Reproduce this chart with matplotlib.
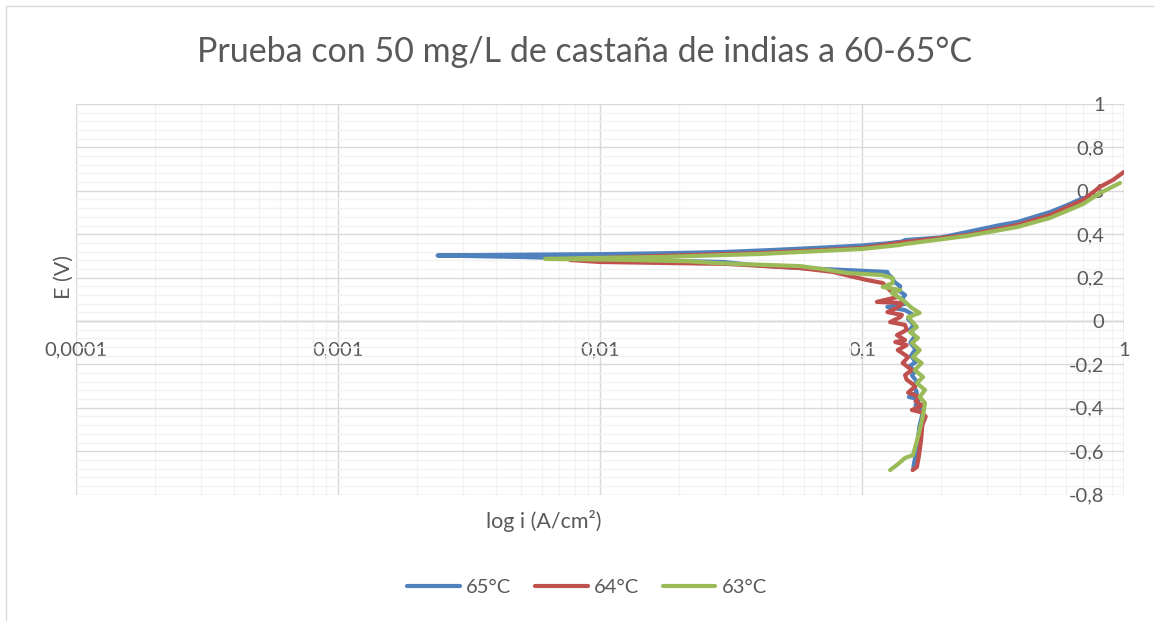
import matplotlib.pyplot as plt
from matplotlib.ticker import LogLocator, MultipleLocator, FixedLocator, NullFormatter
from matplotlib.patches import Rectangle

plt.rcParams['font.family'] = ['Lato', 'DejaVu Sans']

# 65°C: from -0.68 V upwards (cathodic), through Ecorr, then anodic branch
e_65 = [-0.675, -0.62, -0.55, -0.48, -0.43, -0.41, -0.39, -0.36, -0.35, -0.33,
        -0.30, -0.28, -0.25, -0.23, -0.21, -0.19, -0.16, -0.13, -0.10, -0.07,
        -0.04, -0.02, 0.01, 0.03, 0.05, 0.065, 0.08, 0.10, 0.12, 0.14,
        0.16, 0.18, 0.20, 0.215, 0.226, 0.232, 0.244, 0.256, 0.272, 0.285,
        0.295, 0.302, 0.305, 0.308, 0.312, 0.318, 0.327, 0.338, 0.348, 0.358,
        0.366, 0.373, 0.385, 0.41, 0.442, 0.456, 0.502, 0.535, 0.567]
i_65 = [0.157, 0.160, 0.163, 0.166, 0.170, 0.172, 0.160, 0.165, 0.151, 0.162,
        0.158, 0.162, 0.155, 0.160, 0.151, 0.160, 0.154, 0.160, 0.153, 0.159,
        0.152, 0.158, 0.150, 0.156, 0.146, 0.125, 0.148, 0.142, 0.146, 0.138,
        0.140, 0.133, 0.130, 0.126, 0.125, 0.098, 0.058, 0.040, 0.0295, 0.010,
        0.005, 0.0024, 0.0045, 0.010, 0.017, 0.030, 0.045, 0.070, 0.100, 0.125,
        0.142, 0.146, 0.20, 0.252, 0.336, 0.391, 0.522, 0.61, 0.698]

# 64°C
e_64 = [-0.687, -0.673, -0.62, -0.55, -0.48, -0.44, -0.42, -0.41, -0.39, -0.37,
        -0.35, -0.33, -0.30, -0.27, -0.249, -0.226, -0.194, -0.166, -0.134, -0.111,
        -0.097, -0.088, -0.065, -0.041, -0.018, -0.005, 0.018, 0.028, 0.041, 0.065,
        0.083, 0.088, 0.111, 0.129, 0.157, 0.175, 0.189, 0.203, 0.226, 0.244,
        0.263, 0.272, 0.281, 0.290, 0.300, 0.313, 0.336, 0.364, 0.396, 0.442,
        0.488, 0.558, 0.618, 0.650, 0.687]
i_64 = [0.156, 0.162, 0.165, 0.168, 0.170, 0.175, 0.168, 0.155, 0.170, 0.160,
        0.166, 0.150, 0.160, 0.148, 0.146, 0.155, 0.143, 0.150, 0.137, 0.148,
        0.134, 0.146, 0.136, 0.148, 0.146, 0.128, 0.140, 0.142, 0.125, 0.138,
        0.143, 0.114, 0.137, 0.131, 0.124, 0.120, 0.1045, 0.093, 0.0775, 0.058,
        0.0305, 0.010, 0.0077, 0.010, 0.017, 0.041, 0.100, 0.146, 0.252, 0.391,
        0.522, 0.698, 0.81, 0.908, 1.0]

# 63°C
e_63 = [-0.687, -0.66, -0.631, -0.618, -0.535, -0.45, -0.378, -0.35, -0.318, -0.286,
        -0.258, -0.226, -0.194, -0.166, -0.134, -0.101, -0.078, -0.051, -0.028, 0.018,
        0.037, 0.060, 0.097, 0.129, 0.143, 0.157, 0.175, 0.198, 0.212, 0.221,
        0.240, 0.253, 0.262, 0.267, 0.275, 0.282, 0.286, 0.290, 0.295, 0.309,
        0.332, 0.350, 0.355, 0.392, 0.433, 0.475, 0.539, 0.590, 0.636]
i_63 = [0.128, 0.137, 0.146, 0.1565, 0.1635, 0.170, 0.174, 0.166, 0.174, 0.162,
        0.171, 0.159, 0.169, 0.1565, 0.166, 0.155, 0.1635, 0.1525, 0.162, 0.150,
        0.166, 0.155, 0.143, 0.130, 0.140, 0.120, 0.131, 0.131, 0.119, 0.0876,
        0.070, 0.058, 0.035, 0.028, 0.022, 0.012, 0.00617, 0.009, 0.017, 0.041,
        0.100, 0.139, 0.146, 0.252, 0.391, 0.522, 0.698, 0.81, 0.965]

series = [("65°C", i_65, e_65, "#4F81BD"),
          ("64°C", i_64, e_64, "#C0504D"),
          ("63°C", i_63, e_63, "#9BBB59")]

x_ticks = [0.0001, 0.001, 0.01, 0.1, 1]
x_labels = ["0,0001", "0,001", "0,01", "0,1", "1"]
y_ticks = [-0.8, -0.6, -0.4, -0.2, 0, 0.2, 0.4, 0.6, 0.8, 1]
y_labels = ["-0,8", "-0,6", "-0,4", "-0,2", "0", "0,2", "0,4", "0,6", "0,8", "1"]

txt = "#595959"
fig = plt.figure(figsize=(11.54, 6.21), dpi=100)
ax = fig.add_axes([76 / 1154, 1 - 494.6 / 621, 1048 / 1154, 390.6 / 621])

for name, i_vals, e_vals, col in series:
    ax.plot(i_vals, e_vals, color=col, lw=3.0, label=name,
            solid_capstyle="round", solid_joinstyle="round", zorder=3)

ax.set_xscale("log")
ax.set_xlim(0.0001, 1)
ax.set_ylim(-0.8, 1)

ax.xaxis.set_major_locator(FixedLocator(x_ticks))
ax.xaxis.set_minor_locator(LogLocator(base=10, subs=range(2, 10)))
ax.xaxis.set_minor_formatter(NullFormatter())
ax.set_xticklabels(x_labels)
ax.yaxis.set_major_locator(FixedLocator(y_ticks))
ax.yaxis.set_minor_locator(MultipleLocator(0.04))
ax.set_yticklabels(y_labels)

ax.grid(which="major", color="#D9D9D9", lw=1.0, zorder=0)
ax.grid(which="minor", color="#F2F2F2", lw=1.0, zorder=0)
ax.axhline(0, color="#BFBFBF", lw=1.0, zorder=1)
ax.axvline(1, color="#BFBFBF", lw=1.0, zorder=1)
for s in ax.spines.values():
    s.set_visible(False)
ax.spines["bottom"].set_position(("data", 0))

ax.tick_params(which="both", length=0)
ax.tick_params(axis="x", colors=txt, labelsize=14.5, pad=15)
ax.tick_params(axis="y", colors=txt, labelsize=14.5, labelleft=False,
               labelright=True, pad=-14)
for t in ax.yaxis.get_major_ticks():
    t.label2.set_horizontalalignment("right")

ax.set_title("Prueba con 50 mg/L de castaña de indias a 60-65°C",
             fontsize=24.5, color=txt, pad=30, x=0.4857)
fig.text(64 / 1154, 1 - 277 / 621, "E (V)", rotation=90, ha="center",
         va="center", fontsize=15.5, color=txt)
fig.text(544 / 1154, 1 - 521 / 621, "log i (A/cm²)", ha="center",
         va="center", fontsize=15.5, color=txt)

ax.legend(loc="center", bbox_to_anchor=(587 / 1154, 1 - 587 / 621),
          bbox_transform=fig.transFigure, ncol=3, frameon=False,
          fontsize=14.5, labelcolor=txt, handlelength=2.6, handletextpad=0.3,
          columnspacing=1.2)

fig.patches.append(Rectangle((6 / 1154, -0.02), 1.2, 1 - 6 / 621 + 0.02,
                             transform=fig.transFigure, fill=False,
                             edgecolor="#D9D9D9", lw=1.0))

fig.savefig("out.png", dpi=100)
